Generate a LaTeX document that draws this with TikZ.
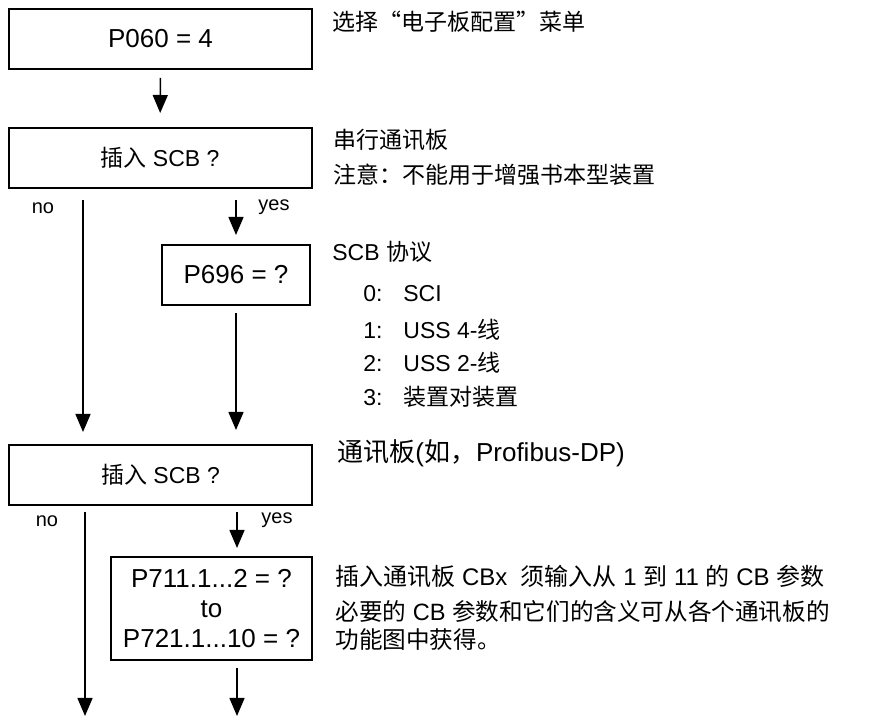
\documentclass[tikz,border=0pt]{standalone}
\usepackage{fontspec}
\setmainfont{Liberation Sans}
\newfontfamily\cjk{Noto Sans CJK SC}
\usetikzlibrary{arrows.meta}
\newcommand{\zh}[1]{{\cjk #1}}

\begin{document}
\begin{tikzpicture}[
  x=0.5pt,y=-0.5pt,
  box/.style={draw,line width=1pt,minimum width=151.5pt,minimum height=30pt,inner sep=2pt,align=center,font=\fontsize{13}{15}\selectfont},
  tag/.style={font=\fontsize{10}{12}\selectfont,inner sep=0pt},
  note/.style={anchor=west,inner sep=0pt,text height=10pt,text depth=1.5pt,font=\fontsize{11.5}{14}\selectfont},
  arr/.style={-{Triangle[length=9pt,width=7.5pt]},line width=0.75pt}
]
\useasboundingbox (0,0) rectangle (891,716);

% flow boxes
\node[box] (p060) at (160.5,39) {P060 = 4};
\node[box,font=\fontsize{11.5}{14}\selectfont] (scb1) at (160,158) {\zh{插入} SCB ?};
\node[box,minimum width=74pt] (p696) at (236,275) {P696 = ?};
\node[box,font=\fontsize{11.5}{14}\selectfont] (scb2) at (160.5,475) {\zh{插入} SCB ?};
\node[box,minimum width=100.5pt,minimum height=51.5pt] (cbpar) at (211.5,608.5) {P711.1...2 = ?\\to\\P721.1...10 = ?};

\coordinate (nox) at (83,0);
\coordinate (noend) at (85,716);
\coordinate (yesend) at (237,716);

% connectors
\draw[arr,shorten <=4pt,shorten >=7pt] (p060) -- (scb1);
\draw[arr,shorten <=5.5pt,shorten >=6pt] (scb1.south -| nox) -- (scb2.north -| nox);
\draw[arr,shorten <=5.5pt,shorten >=4.5pt] (scb1.south -| p696.north) -- (p696.north);
\draw[arr,shorten <=3.5pt,shorten >=7pt] (p696.south) -- (p696.south |- scb2.north);
\draw[arr,shorten <=3pt] (scb2.south -| noend) -- (noend);
\draw[arr,shorten <=3pt,shorten >=4pt] (scb2.south -| yesend) -- (cbpar.north -| yesend);
\draw[arr,shorten <=3.5pt] (cbpar.south -| yesend) -- (yesend);

\node[tag] (no1) at (43,208) {no};
\node[tag] (yes1) at (274,207) {yes};
\node[tag] (no2) at (47,521) {no};
\node[tag] (yes2) at (277,520) {yes};

% notes on the right
\node[note] (menu) at (332,22) {\zh{选择“电子板配置”菜单}};
\node[note] (serial) at (333,140) {\zh{串行通讯板}};
\node[note] (serialnote) at (333,175) {\zh{注意：不能用于增强书本型装置}};
\node[note] (protocol) at (332,252) {SCB \zh{协议}};
\foreach \n/\t/\y in {0/SCI/293,1/USS 4-\zh{线}/330,2/USS 2-\zh{线}/363,3/\zh{装置对装置}/397}{
  \node[note] (num\n) at (363,\y) {\n:};
  \node[note] (item\n) at (403,\y) {\t};
}
\node[note,font=\fontsize{13}{15}\selectfont] (commboard) at (337,453) {\zh{通讯板}(\zh{如，}Profibus-DP)};
\node[note,font=\fontsize{12}{14}\selectfont] (cbhead) at (335,577) {\zh{插入通讯板} CBx\ \ \zh{须输入从} 1 \zh{到} 11 \zh{的} CB \zh{参数}};
\node[note,font=\fontsize{11.8}{14}\selectfont] (cbnote1) at (335,612) {\zh{必要的} CB \zh{参数和它们的含义可从各个通讯板的}};
\node[note,font=\fontsize{11.8}{14}\selectfont] (cbnote2) at (335,640) {\zh{功能图中获得。}};
\end{tikzpicture}
\end{document}
